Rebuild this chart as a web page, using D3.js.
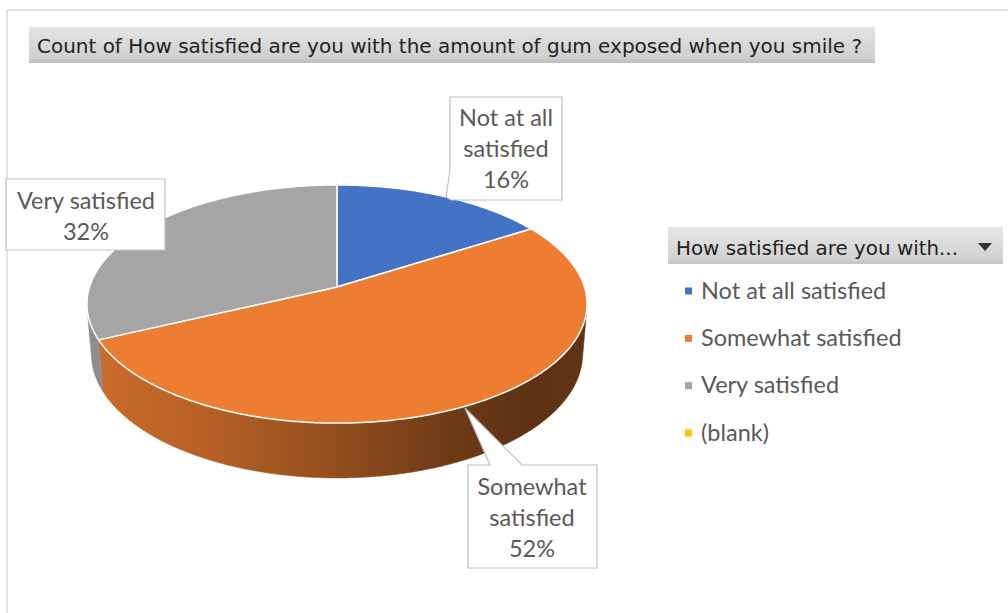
<!DOCTYPE html>
<html>
<head>
<meta charset="utf-8">
<script src="https://cdn.jsdelivr.net/npm/d3@7/dist/d3.min.js"></script>
<style>
  html, body { margin: 0; padding: 0; background: #fff; }
  svg { display: block; }
</style>
</head>
<body>
<svg id="chart" width="1008" height="613"></svg>
<script>
// ---------------- data ----------------
const title = "Count of How satisfied are you with the amount of gum exposed when you smile ?";
const legendTitle = "How satisfied are you with...";
const categories = ["Not at all satisfied", "Somewhat satisfied", "Very satisfied", "(blank)"];
const counts = [8, 26, 16, 0];
const colors = ["#4472C4", "#ED7D31", "#A5A5A5", "#FFC000"];
const labelLines = [["Not at all", "satisfied"], ["Somewhat", "satisfied"], ["Very satisfied"], null];

// ---------------- layout ----------------
const svg = d3.select("#chart");
const W = 1008, H = 613;
const labelFont = "Lato, 'Open Sans', sans-serif";
const labelSize = 23.5;
const textColor = "#595959";

// 3D perspective pie geometry (radius 1 disk, thickness t)
const geo = { cx: 337, cy: 287, f: 1527, D: 6.17, alpha: Math.asin(0.4713), t: 0.231 };
function proj(phi, r, y) {
  const X = r * Math.sin(phi), Z = -r * Math.cos(phi);
  const sa = Math.sin(geo.alpha), ca = Math.cos(geo.alpha);
  const depth = geo.D - y * sa - Z * ca;
  return [geo.cx + geo.f * X / depth, geo.cy + geo.f * (Z * sa - y * ca) / depth];
}

// frame
svg.append("line").attr("x1", 7).attr("y1", 10).attr("x2", W).attr("y2", 10)
  .attr("stroke", "#d9d9d9").attr("stroke-width", 1.5);
svg.append("line").attr("x1", 7).attr("y1", 10).attr("x2", 7).attr("y2", H)
  .attr("stroke", "#d9d9d9").attr("stroke-width", 1.5);

const defs = svg.append("defs");
// title box gradient
const tg = defs.append("linearGradient").attr("id", "titleGrad").attr("x1", 0).attr("y1", 0).attr("x2", 0).attr("y2", 1);
tg.append("stop").attr("offset", 0).attr("stop-color", "#e4e4e4");
tg.append("stop").attr("offset", 0.85).attr("stop-color", "#cfcfcf");
tg.append("stop").attr("offset", 1).attr("stop-color", "#bdbdbd");

// title
svg.append("rect").attr("x", 29).attr("y", 27).attr("width", 846).attr("height", 36)
  .attr("fill", "url(#titleGrad)");
svg.append("text").attr("x", 37).attr("y", 53)
  .attr("font-family", "'DejaVu Sans', sans-serif").attr("font-size", 20)
  .attr("fill", "#222").attr("textLength", 825).attr("lengthAdjust", "spacingAndGlyphs")
  .text(title);

// ---------------- pie ----------------
const pie = d3.pie().sort(null).startAngle(0).endAngle(2 * Math.PI);
const arcs = pie(counts);
const total = d3.sum(counts);

// wall shading gradients (screen-space, left lighter -> right darker)
const shade = [[0, 0.86], [0.22, 0.78], [0.5, 0.62], [0.72, 0.47], [0.87, 0.4], [1, 0.41]];
colors.forEach((c, i) => {
  const g = defs.append("linearGradient").attr("id", "wall" + i)
    .attr("gradientUnits", "userSpaceOnUse")
    .attr("x1", geo.cx - 250).attr("y1", 0).attr("x2", geo.cx + 250).attr("y2", 0);
  const base = d3.rgb(c);
  shade.forEach(([o, k]) => {
    g.append("stop").attr("offset", o)
      .attr("stop-color", d3.rgb(base.r * k, base.g * k, base.b * k).formatHex());
  });
});

const kVis = 1 / (geo.D * Math.cos(geo.alpha));
const visA = Math.acos(-kVis), visB = 2 * Math.PI - Math.acos(-kVis);
const step = Math.PI / 360;
function rimPts(a0, a1, y) {
  const pts = [];
  const n = Math.max(2, Math.ceil(Math.abs(a1 - a0) / step));
  for (let j = 0; j <= n; j++) pts.push(proj(a0 + (a1 - a0) * j / n, 1, y));
  return pts;
}
const line = d3.line();

const gWalls = svg.append("g");
arcs.forEach((a, i) => {
  const s = Math.max(a.startAngle, visA), e = Math.min(a.endAngle, visB);
  if (e <= s) return;
  const pts = rimPts(s, e, 0).concat(rimPts(e, s, -geo.t));
  gWalls.append("path").attr("d", line(pts) + "Z")
    .attr("fill", "url(#wall" + i + ")").attr("stroke", "url(#wall" + i + ")").attr("stroke-width", 0.5);
});

const gTop = svg.append("g");
arcs.forEach((a, i) => {
  if (a.endAngle - a.startAngle <= 0) return;
  const pts = [proj(0, 0, 0)].concat(rimPts(a.startAngle, a.endAngle, 0));
  gTop.append("path").attr("d", line(pts) + "Z")
    .attr("fill", colors[i]).attr("stroke", "#ffffff").attr("stroke-width", 1.5)
    .attr("stroke-linejoin", "round");
});

// ---------------- data labels ----------------
const labelLayout = [
  { path: [[450, 97], [562, 97], [562, 200], [451, 200], [446, 197], [450, 170]], cx: 506, y0: 126 },
  { path: [[468, 465], [490, 465], [465, 408], [522, 465], [597, 465], [597, 568], [468, 568]], cx: 532, y0: 495 },
  { path: [[6, 179], [165, 179], [165, 250], [6, 250]], cx: 86, y0: 209 },
  null
];
const lineH = 31;
arcs.forEach((a, i) => {
  const L = labelLayout[i];
  if (!L || !labelLines[i] || counts[i] === 0) return;
  svg.append("path").attr("d", line(L.path) + "Z")
    .attr("fill", "#fff").attr("stroke", "#bfbfbf").attr("stroke-width", 1.2);
  const lines = labelLines[i].concat([d3.format(".0%")(counts[i] / total)]);
  const t = svg.append("text").attr("font-family", labelFont).attr("font-size", labelSize)
    .attr("fill", textColor).attr("text-anchor", "middle");
  lines.forEach((s, j) => t.append("tspan").attr("x", L.cx).attr("y", L.y0 + j * lineH).text(s));
});

// ---------------- legend ----------------
const lg = defs.append("linearGradient").attr("id", "legGrad").attr("x1", 0).attr("y1", 0).attr("x2", 0).attr("y2", 1);
lg.append("stop").attr("offset", 0).attr("stop-color", "#e6e6e6");
lg.append("stop").attr("offset", 0.85).attr("stop-color", "#d2d2d2");
lg.append("stop").attr("offset", 1).attr("stop-color", "#c2c2c2");
svg.append("rect").attr("x", 668).attr("y", 227).attr("width", 335).attr("height", 37)
  .attr("fill", "url(#legGrad)");
svg.append("text").attr("x", 676).attr("y", 255)
  .attr("font-family", "'DejaVu Sans', sans-serif").attr("font-size", 19)
  .attr("fill", "#222").attr("textLength", 282).attr("lengthAdjust", "spacingAndGlyphs")
  .text(legendTitle);
svg.append("path").attr("d", "M978,243 L992,243 L985,251 Z").attr("fill", "#333");

const legY = d3.scalePoint().domain(categories).range([291, 433]);
const items = svg.append("g").selectAll("g").data(categories).join("g")
  .attr("transform", d => `translate(0,${legY(d)})`);
items.append("rect").attr("x", 685).attr("y", -3.5).attr("width", 7).attr("height", 7)
  .attr("fill", (d, i) => colors[i]);
items.append("text").attr("x", 701).attr("y", 7.5)
  .attr("font-family", labelFont).attr("font-size", labelSize).attr("fill", textColor)
  .text(d => d);
</script>
</body>
</html>
